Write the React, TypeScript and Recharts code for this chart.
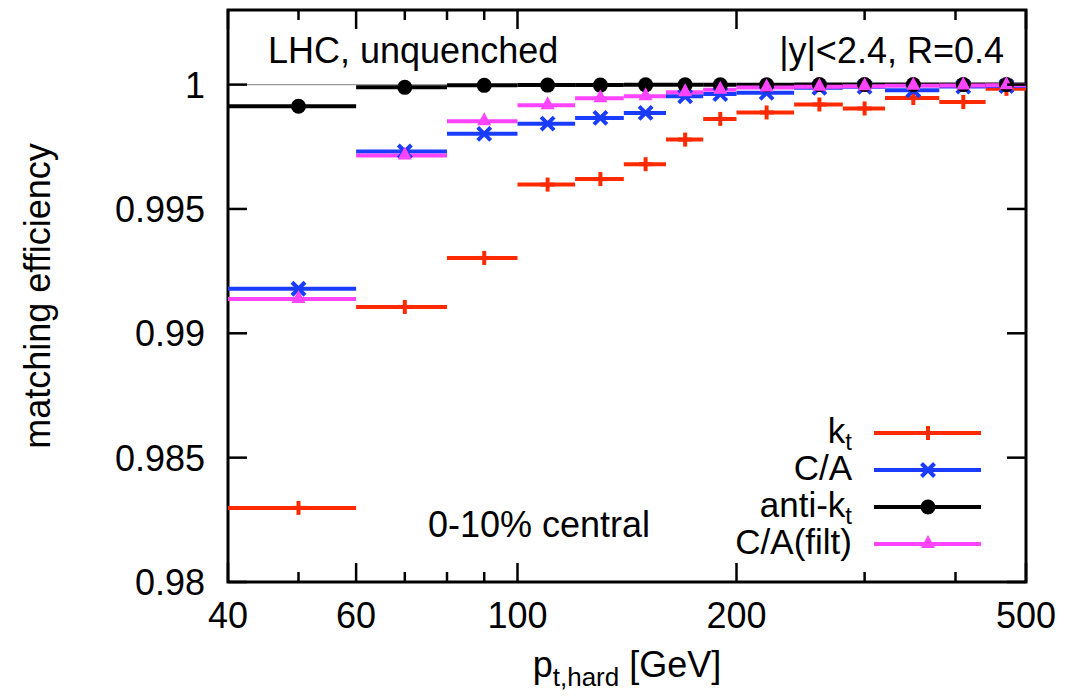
import { ComposedChart, Scatter, ErrorBar, XAxis, YAxis, CartesianGrid, ReferenceArea } from "recharts";

// bin edges in p_t,hard [GeV]
const binEdges = [40, 60, 80, 100, 120, 140, 160, 180, 200, 240, 280, 320, 380, 440, 500];

const ktValues = [0.98298, 0.99106, 0.99303, 0.99598, 0.9962, 0.9968, 0.99779, 0.99862, 0.99888, 0.9992, 0.99904, 0.99946, 0.9993, 0.99983];
const caValues = [0.99179, 0.99731, 0.99802, 0.99843, 0.99866, 0.99886, 0.99953, 0.99962, 0.99967, 0.99987, 0.99991, 0.99977, 0.99992, 0.99994];
const antiKtValues = [0.99913, 0.99989, 0.99997, 0.99998, 0.99998, 0.99999, 0.99999, 0.99999, 0.99999, 1.0, 1.0, 1.0, 1.0, 1.0];
const caFiltValues = [0.99138, 0.99715, 0.99853, 0.99917, 0.99945, 0.99953, 0.99969, 0.99979, 0.99988, 0.99991, 0.99993, 0.99995, 0.99996, 0.99997];

const xTicks = [40, 50, 60, 70, 80, 90, 100, 200, 300, 400, 500];
const xLabels = [40, 60, 100, 200, 500];
const yTicks = [0.98, 0.985, 0.99, 0.995, 1];

const W = 1065;
const H = 697;
const PL = 228;
const PR = 1026;
const PT = 10;
const PB = 582;

const RED = "#ff2a00";
const BLUE = "#1a3cff";
const BLACK = "#000000";
const MAGENTA = "#ff44ff";
const FONT = "'Liberation Sans', Arial, Helvetica, sans-serif";

const rows = (vals: number[]) =>
  vals.map((y, i) => ({
    x: (binEdges[i] + binEdges[i + 1]) / 2,
    y,
    xe: (binEdges[i + 1] - binEdges[i]) / 2,
  }));

const Plus = ({ cx, cy }: any) => (
  <g stroke={RED} strokeWidth={4}>
    <line x1={cx - 7} x2={cx + 7} y1={cy} y2={cy} />
    <line x1={cx} x2={cx} y1={cy - 7} y2={cy + 7} />
  </g>
);
const Cross = ({ cx, cy }: any) => (
  <g stroke={BLUE} strokeWidth={4}>
    <line x1={cx - 6.5} x2={cx + 6.5} y1={cy - 6.5} y2={cy + 6.5} />
    <line x1={cx - 6.5} x2={cx + 6.5} y1={cy + 6.5} y2={cy - 6.5} />
  </g>
);
const Dot = ({ cx, cy }: any) => <circle cx={cx} cy={cy} r={7.5} fill={BLACK} />;
const Tri = ({ cx, cy }: any) => (
  <polygon points={`${cx},${cy - 9} ${cx - 7},${cy + 4} ${cx + 7},${cy + 4}`} fill={MAGENTA} />
);

const XTick = (props: any) => {
  const { x, payload } = props;
  const major = xLabels.includes(payload.value);
  const len = major ? 19 : 10;
  return (
    <g>
      <line x1={x} x2={x} y1={PB} y2={PB - len} stroke="#000" strokeWidth={2.5} />
      <line x1={x} x2={x} y1={PT} y2={PT + len} stroke="#000" strokeWidth={2.5} />
      {major && (
        <text x={x} y={PB + 46} textAnchor="middle" fontSize={36} fontFamily={FONT} fill="#000">
          {payload.value}
        </text>
      )}
    </g>
  );
};

const YTick = (props: any) => {
  const { y, payload } = props;
  return (
    <g>
      <line x1={PL} x2={PL + 19} y1={y} y2={y} stroke="#000" strokeWidth={2.5} />
      <line x1={PR} x2={PR - 19} y1={y} y2={y} stroke="#000" strokeWidth={2.5} />
      <text x={205} y={y + 13} textAnchor="end" fontSize={36} fontFamily={FONT} fill="#000">
        {String(payload.value)}
      </text>
    </g>
  );
};

const legendItems = [
  { label: "k", sub: "t", color: RED, Mark: Plus },
  { label: "C/A", sub: "", color: BLUE, Mark: Cross },
  { label: "anti-k", sub: "t", color: BLACK, Mark: Dot },
  { label: "C/A(filt)", sub: "", color: MAGENTA, Mark: Tri },
];

const App = () => {
  return (
    <div style={{ position: "absolute", left: 0, top: 0, width: W, height: H, background: "#fff" }}>
      <ComposedChart width={W} height={H} margin={{ top: PT, right: W - PR, bottom: 0, left: 0 }}>
        <CartesianGrid vertical={false} horizontalValues={[1]} stroke="#999" strokeWidth={1.2} />
        <XAxis
          dataKey="x"
          type="number"
          scale="log"
          domain={[40, 500]}
          allowDataOverflow
          ticks={xTicks}
          interval={0}
          tick={<XTick />}
          tickLine={false}
          axisLine={false}
          height={H - PB}
        />
        <YAxis
          dataKey="y"
          type="number"
          domain={[0.98, 1.003]}
          allowDataOverflow
          ticks={yTicks}
          interval={0}
          tick={<YTick />}
          tickLine={false}
          axisLine={false}
          width={PL}
        />
        <Scatter data={rows(ktValues)} dataKey="y" shape={<Plus />} isAnimationActive={false}>
          <ErrorBar dataKey="xe" direction="x" width={0} stroke={RED} strokeWidth={4} isAnimationActive={false} />
        </Scatter>
        <Scatter data={rows(caValues)} dataKey="y" shape={<Cross />} isAnimationActive={false}>
          <ErrorBar dataKey="xe" direction="x" width={0} stroke={BLUE} strokeWidth={4} isAnimationActive={false} />
        </Scatter>
        <Scatter data={rows(antiKtValues)} dataKey="y" shape={<Dot />} isAnimationActive={false}>
          <ErrorBar dataKey="xe" direction="x" width={0} stroke={BLACK} strokeWidth={4} isAnimationActive={false} />
        </Scatter>
        <Scatter data={rows(caFiltValues)} dataKey="y" shape={<Tri />} isAnimationActive={false}>
          <ErrorBar dataKey="xe" direction="x" width={0} stroke={MAGENTA} strokeWidth={4} isAnimationActive={false} />
        </Scatter>
        <ReferenceArea x1={40} x2={500} y1={0.98} y2={1.003} fill="none" stroke="#000" strokeWidth={3} fillOpacity={0} />
      </ComposedChart>

      <svg width={W} height={H} style={{ position: "absolute", left: 0, top: 0, pointerEvents: "none" }} fontFamily={FONT}>
        <text x={268} y={63} fontSize={36}>LHC, unquenched</text>
        <text x={1004} y={63} fontSize={36} textAnchor="end">|y|&lt;2.4, R=0.4</text>
        <text x={428} y={537} fontSize={36}>0-10% central</text>
        <text transform="rotate(-90)" x={-(PT + PB) / 2} y={50} fontSize={36} textAnchor="middle">
          matching efficiency
        </text>
        <text x={627} y={677} fontSize={36} textAnchor="middle">
          p<tspan fontSize={26} dy={9}>t,hard</tspan>
          <tspan dy={-9}> [GeV]</tspan>
        </text>
        {legendItems.map((it, i) => {
          const y = 433 + i * 37;
          const M = it.Mark;
          return (
            <g key={it.label}>
              <text x={852} y={y + 10} fontSize={35} textAnchor="end">
                {it.label}
                {it.sub && <tspan fontSize={24} dy={7}>{it.sub}</tspan>}
              </text>
              <line x1={874} x2={981} y1={y} y2={y} stroke={it.color} strokeWidth={4} />
              <M cx={928} cy={y} />
            </g>
          );
        })}
      </svg>
    </div>
  );
};

export default App;
